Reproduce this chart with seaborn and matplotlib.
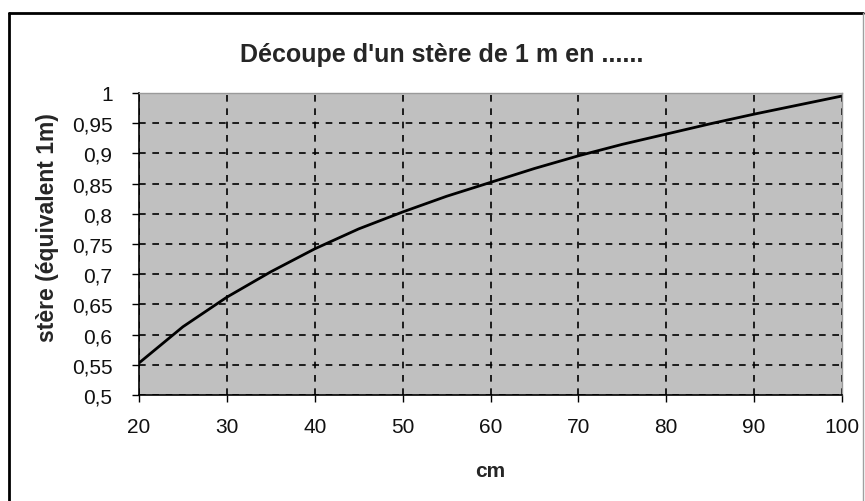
import matplotlib
matplotlib.use("Agg")
import matplotlib.pyplot as plt
import seaborn as sns
import pandas as pd
from matplotlib.lines import Line2D
from matplotlib.ticker import FuncFormatter

cm = [20, 25, 30, 35, 40, 45, 50, 55, 60, 65, 70, 75, 80, 85, 90, 95, 100]
stere = [0.553, 0.613, 0.662, 0.704, 0.742, 0.775, 0.803, 0.829, 0.852, 0.875,
         0.896, 0.915, 0.932, 0.949, 0.965, 0.98, 0.995]
x_ticks = [20, 30, 40, 50, 60, 70, 80, 90, 100]
y_ticks = [0.5, 0.55, 0.6, 0.65, 0.7, 0.75, 0.8, 0.85, 0.9, 0.95, 1.0]

sns.set_style("white")
plt.rcParams['font.family'] = ['Liberation Sans', 'DejaVu Sans']

df = pd.DataFrame({"cm": cm, "stere": stere})

fig = plt.figure(figsize=(8.65, 5.02), dpi=100)
W, H = 865, 502
ax = fig.add_axes([139 / W, 1 - 396 / H, (842 - 139) / W, (396 - 94) / H])
ax.set_facecolor("#c0c0c0")

sns.lineplot(data=df, x="cm", y="stere", ax=ax, color="black", linewidth=2)

ax.set_xlim(20, 100)
ax.set_ylim(0.5, 1.0)
ax.set_xticks(x_ticks)
ax.set_yticks(y_ticks)
ax.yaxis.set_major_formatter(FuncFormatter(lambda v, p: ("%g" % round(v, 2)).replace(".", ",")))
ax.grid(True, color="black", linestyle=(0, (4, 4)), linewidth=1.2)
ax.tick_params(axis="both", which="both", direction="out", length=5, width=1,
               color="black", labelsize=15, left=True, bottom=True, labelcolor="#111111")
ax.tick_params(axis="x", pad=11)
ax.tick_params(axis="y", pad=14)
for side in ["left", "bottom"]:
    ax.spines[side].set_color("black")
    ax.spines[side].set_linewidth(1.2)
for side in ["top", "right"]:
    ax.spines[side].set_color("#9a9a9a")
    ax.spines[side].set_linewidth(1)

ax.set_xlabel("cm", fontsize=15, fontweight="bold", labelpad=18)
ax.set_ylabel("stère (équivalent 1m)", fontsize=16.5, fontweight="bold")
ax.yaxis.set_label_coords((59 - 139) / 703, (396 - 228) / 302)

fig.text(442 / W, 1 - 55 / H, "Découpe d'un stère de 1 m en ......",
         ha="center", va="center", fontsize=18, fontweight="bold")

# outer frame
fig.add_artist(Line2D([8.5 / W, 8.5 / W], [0, 1 - 13.5 / H], transform=fig.transFigure,
                      color="black", linewidth=2))
fig.add_artist(Line2D([8.5 / W, 863 / W], [1 - 13.5 / H, 1 - 13.5 / H], transform=fig.transFigure,
                      color="black", linewidth=2))
fig.add_artist(Line2D([863 / W, 863 / W], [0, 1 - 13.5 / H], transform=fig.transFigure,
                      color="#a0a0a0", linewidth=1))

fig.savefig("out.png", dpi=100, facecolor="white")
